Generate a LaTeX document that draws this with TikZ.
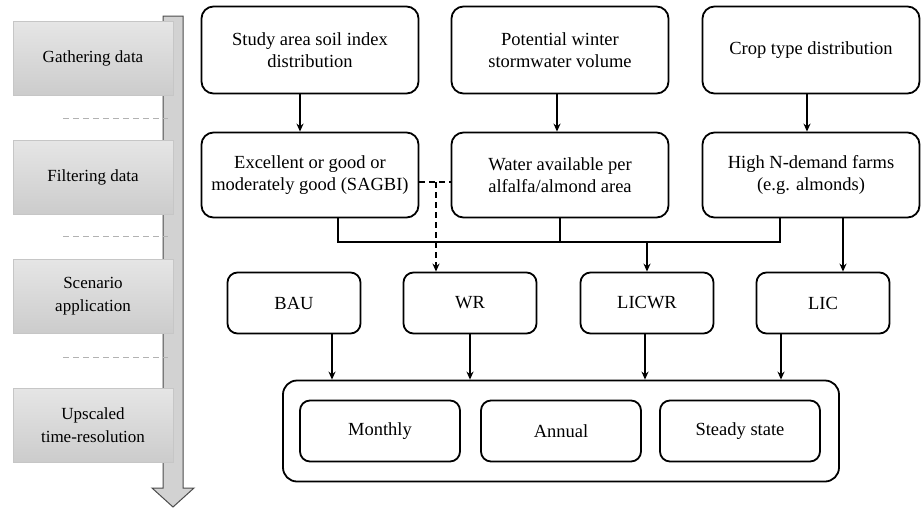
\documentclass[tikz,border=0pt]{standalone}
\usepackage{fontspec}
\setmainfont{Liberation Serif}
\usetikzlibrary{arrows.meta}

\begin{document}
\begin{tikzpicture}[x=1pt,y=-1pt,
    box/.style={draw,line width=1.8pt,rounded corners=12pt,align=center,font=\fontsize{18.5}{22}\selectfont},
    stage/.style={draw=gray!45,line width=0.8pt,top color=gray!20,bottom color=gray!40,minimum width=160pt,minimum height=74pt,align=center,font=\fontsize{17}{23}\selectfont},
    arr/.style={line width=1.6pt,-{Stealth[length=8pt,width=7pt]}},
    link/.style={line width=1.6pt}]

    \useasboundingbox (0,0) rectangle (922,509);

    \draw[draw=gray!60!black,fill=gray!35,line width=1pt] (163,16) -- (183,16) -- (183,488) -- (194,488) -- (173,507) -- (152,488) -- (163,488) -- cycle;
    \foreach \y in {118,236,357}
        \draw[gray!60,line width=1pt,dash pattern=on 6pt off 4pt] (63,\y) -- (168,\y);

    \node[stage] (gather)  at (93,58)  {Gathering data};
    \node[stage] (filter)  at (93,177) {Filtering data};
    \node[stage] (apply)   at (93,296) {Scenario\\application};
    \node[stage] (upscale) at (93,425) {Upscaled\\time-resolution};


    \node[box,minimum width=217pt,minimum height=87pt] (soil)  at (310,50) {Study area soil index\\distribution};
    \node[box,minimum width=217pt,minimum height=87pt] (storm) at (560,50) {Potential winter\\stormwater volume};
    \node[box,minimum width=217pt,minimum height=87pt] (crop)  at (811,50) {Crop type distribution};

    \node[box,minimum width=217pt,minimum height=85pt] (sagbi)   at (310,175) {Excellent or good or\\moderately good (SAGBI)};
    \node[box,minimum width=217pt,minimum height=85pt] (water)   at (560,175) {Water available per\\alfalfa/almond area};
    \node[box,minimum width=217pt,minimum height=85pt] (ndemand) at (811,175) {High N-demand farms\\(e.g. almonds)};

    \node[box,rounded corners=10pt,minimum width=133pt,minimum height=61pt] (bau)   at (294,303) {BAU};
    \node[box,rounded corners=10pt,minimum width=133pt,minimum height=61pt] (wr)    at (470,303) {WR};
    \node[box,rounded corners=10pt,minimum width=133pt,minimum height=61pt] (licwr) at (647,303) {LICWR};
    \node[box,rounded corners=10pt,minimum width=133pt,minimum height=61pt] (lic)   at (823,303) {LIC};

    \node[box,rounded corners=14pt,minimum width=556pt,minimum height=101pt] (res) at (561,431) {};
    \node[box,rounded corners=10pt,minimum width=160pt,minimum height=61pt] (monthly) at (380,431) {Monthly};
    \node[box,rounded corners=10pt,minimum width=160pt,minimum height=61pt] (annual)  at (561,431) {Annual};
    \node[box,rounded corners=10pt,minimum width=160pt,minimum height=61pt] (steady)  at (740,431) {Steady state};


    \draw[arr] ([xshift=-10pt]soil.south) -- ([xshift=-10pt]sagbi.north);
    \draw[arr] ([xshift=-3pt]storm.south) -- ([xshift=-3pt]water.north);
    \draw[arr] ([xshift=-4pt]crop.south) -- ([xshift=-4pt]ndemand.north);

    \coordinate (mergeL) at (338,242);
    \coordinate (mergeR) at (780,242);
    \coordinate (mergeM) at (647,242);
    \draw[link] (sagbi.south -| mergeL) -- (mergeL) -- (mergeR) -- (ndemand.south -| mergeR);
    \draw[link] (water.south) -- (water.south |- mergeL);
    \draw[arr] (mergeM) -- (licwr.north);
    \draw[arr] ([xshift=32pt]ndemand.south) -- ([xshift=20pt]lic.north);

    \coordinate (dash) at (436,182);
    \draw[link,dash pattern=on 6pt off 4pt] (sagbi.east |- dash) -- (water.west |- dash);
    \draw[arr,dash pattern=on 6pt off 4pt] (dash) -- (wr.north -| dash);

    \foreach \s/\d in {bau/38,wr/0,licwr/-2,lic/-42} {
        \coordinate (top) at ([xshift=\d pt]\s.south);
        \draw[arr] (top) -- (top |- res.north);
    }
  \end{tikzpicture}
\end{document}
